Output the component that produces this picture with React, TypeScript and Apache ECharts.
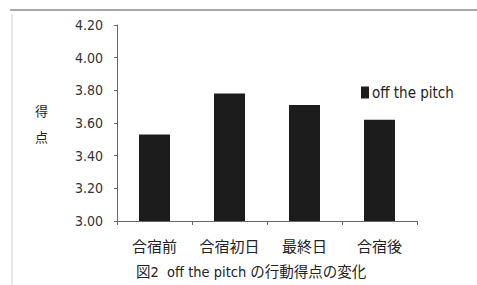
import React, { useEffect, useRef } from "react";
import * as echarts from "echarts";

const categories = ["合宿前", "合宿初日", "最終日", "合宿後"];
const values = [3.53, 3.78, 3.71, 3.62];
const seriesName = "off the pitch";
const yAxisName = "得\n点";
const title = "図2  off the pitch の行動得点の変化";

const FONT = "'Liberation Sans Narrow', 'DejaVu Sans Condensed', 'Noto Sans CJK JP', sans-serif";
const CJK = "'Noto Sans CJK JP', sans-serif";

export default function App() {
  const ref = useRef<HTMLDivElement>(null);
  useEffect(() => {
    const chart = echarts.init(ref.current!, null, { renderer: "svg" });
    chart.setOption({
      animation: false,
      backgroundColor: "#ffffff",
      grid: { left: 117, right: 60, top: 25, bottom: 64 },
      legend: {
        data: [seriesName],
        left: 356,
        top: 80,
        itemWidth: 8,
        itemHeight: 12,
        itemGap: 4,
        icon: "rect",
        textStyle: { fontFamily: FONT, fontSize: 15, color: "#222", padding: [0, 0, 0, -2] },
      },
      xAxis: {
        type: "category",
        data: categories,
        axisLine: { lineStyle: { color: "#666", width: 1 } },
        axisTick: { show: true, length: 4, inside: false, lineStyle: { color: "#666" } },
        axisLabel: { interval: 0, fontFamily: CJK, fontSize: 15, color: "#222", margin: 17 },
      },
      yAxis: {
        type: "value",
        min: 3.0,
        max: 4.2,
        interval: 0.2,
        name: yAxisName,
        nameLocation: "middle",
        nameRotate: 0,
        nameGap: 69,
        nameTextStyle: { fontFamily: CJK, fontSize: 13, color: "#222", lineHeight: 26 },
        axisLine: { show: true, lineStyle: { color: "#666", width: 1 } },
        axisTick: { show: true, length: 3, lineStyle: { color: "#666" } },
        splitLine: { show: false },
        axisLabel: {
          fontFamily: FONT,
          fontSize: 14,
          color: "#333",
          margin: 14,
          formatter: (v: number) => v.toFixed(2),
        },
      },
      series: [
        {
          name: seriesName,
          type: "bar",
          data: values,
          barWidth: 31,
          itemStyle: { color: "#1c1c1c" },
        },
      ],
      graphic: [
        {
          type: "line",
          shape: { x1: 10, y1: 10, x2: 477, y2: 10 },
          style: { stroke: "#8a8a8a", lineWidth: 1.5 },
        },
        {
          type: "line",
          shape: { x1: 12, y1: 14, x2: 12, y2: 285 },
          style: { stroke: "#d0d0d0", lineWidth: 1 },
        },
        {
          type: "text",
          left: 136,
          top: 265,
          style: {
            text: title,
            fontFamily: FONT,
            fontSize: 14.5,
            fill: "#222",
          },
        },
      ],
    });
    return () => chart.dispose();
  }, []);
  return (
    <div
      ref={ref}
      style={{ position: "fixed", left: 0, top: 0, width: 477, height: 285 }}
    />
  );
}
